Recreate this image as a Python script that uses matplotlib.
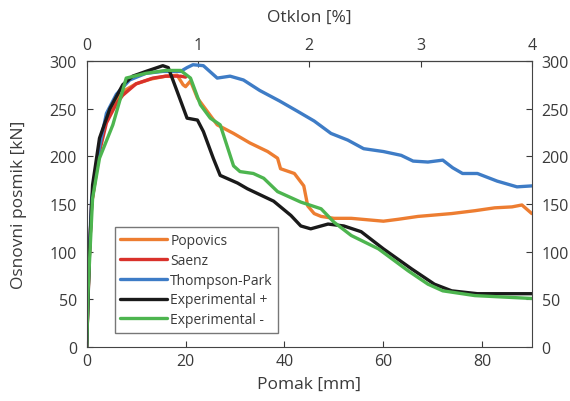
import matplotlib
matplotlib.use("Agg")
import matplotlib.pyplot as plt

plt.rcParams["font.family"] = ["Open Sans", "DejaVu Sans"]

# Popovics
pop_x = [0, 0.5, 1, 2.6, 4, 6, 8, 10, 13, 16, 18.3, 19.5, 20, 21, 22.4, 24.4, 26.4, 29.7, 33,
         36.6, 38.6, 39.2, 42, 43.9, 44.7, 46, 47.4, 50, 53.5, 60, 63, 67, 73.8, 78.5, 82.5, 86, 88, 90]
pop_y = [0, 90, 150, 208, 240, 260, 270, 276, 281, 284, 285, 275, 273, 279, 261, 247, 233, 224, 214,
         205, 198, 187, 182, 169, 148, 140, 137, 135, 135, 132, 134, 137, 140, 143, 146, 147, 149, 140]
# Saenz
sae_x = [0, 0.5, 1, 2.6, 4, 6, 7.3, 10, 13.4, 16, 19, 20]
sae_y = [0, 90, 150, 205, 235, 255, 264, 276, 282, 284, 284, 283]
# Thompson-Park
tp_x = [0, 0.5, 1, 2.6, 4, 6, 8.7, 12, 15.4, 19, 20.3, 21.5, 23.6, 26.4, 29, 31.7, 35, 39, 42.7,
        46, 49.4, 52.8, 56, 60, 63.6, 66, 69, 72, 74, 76, 79, 83, 87, 90]
tp_y = [0, 95, 155, 210, 245, 265, 280, 287, 289, 289, 293, 296, 295, 282, 284, 280, 269, 258, 247,
        237, 224, 217, 208, 205, 201, 195, 194, 196, 188, 182, 182, 174, 168, 169]
# Experimental +
ep_x = [0, 0.6, 1.2, 2.6, 4.7, 7.3, 9.3, 12, 15.4, 16.5, 18.3, 20.3, 22.4, 23.6, 25.6, 27,
        30.5, 32.5, 37.8, 41.3, 43.3, 45.3, 48.8, 52, 55.5, 60, 65.7, 70.3, 73.8, 79, 84, 90]
ep_y = [0, 103, 170, 219, 250, 275, 284, 289, 295, 293, 268, 240, 238, 226, 198, 180,
        172, 166, 153, 138, 127, 124, 129, 127, 121, 103, 82, 66, 59, 56, 56, 56]
# Experimental -
em_x = [0, 0.3, 1.2, 2.6, 5.3, 8, 12, 16, 19, 21, 23, 25, 27, 29.7, 31, 33.7, 35.8, 38.6,
        43.3, 47.4, 50, 53.5, 59, 65, 69, 72, 78.5, 90]
em_y = [0, 60, 156, 198, 233, 282, 287, 290, 290, 282, 254, 240, 233, 190, 184, 182, 177, 163,
        152, 145, 131, 117, 103, 80, 66, 59, 54, 51]

series = [
    ("Popovics", pop_x, pop_y, "#ED7D31"),
    ("Saenz", sae_x, sae_y, "#D9312B"),
    ("Thompson-Park", tp_x, tp_y, "#3E7CC6"),
    ("Experimental +", ep_x, ep_y, "#1A1A1A"),
    ("Experimental -", em_x, em_y, "#4DB54F"),
]

y_ticks = [0, 50, 100, 150, 200, 250, 300]
x_ticks = [0, 20, 40, 60, 80]
top_ticks = [0, 1, 2, 3, 4]
txt = "#3a3a3a"

fig = plt.figure(figsize=(5.7, 4.02), dpi=100)
ax = fig.add_axes([0.152, 0.134, 0.781, 0.712])

for name, xs, ys, col in series:
    ax.plot(xs, ys, color=col, lw=2.4, label=name, solid_capstyle="round")

ax.set_xlim(0, 90)
ax.set_ylim(0, 300)
ax.set_xticks(x_ticks)
ax.set_yticks(y_ticks)
ax.tick_params(direction="in", labelsize=11.5, colors=txt, length=4)
ax.tick_params(axis="x", pad=4)
ax.tick_params(axis="y", right=True, labelright=True, pad=7)
ax.set_xlabel("Pomak [mm]", fontsize=12.5, color=txt, labelpad=5)
ax.set_ylabel("Osnovni posmik [kN]", fontsize=12.5, color=txt, labelpad=16)

top = ax.secondary_xaxis("top", functions=(lambda v: v / 22.5, lambda v: v * 22.5))
top.set_xticks(top_ticks)
top.tick_params(direction="in", labelsize=11.5, colors=txt, length=4, pad=6)
top.set_xlabel("Otklon [%]", fontsize=12.5, color=txt, labelpad=11)

for s in ax.spines.values():
    s.set_color("#444444")

leg = ax.legend(loc="lower left", bbox_to_anchor=(0.063, 0.05), borderaxespad=0, fontsize=10,
                frameon=True, fancybox=False, edgecolor="#555555", handlelength=3.4,
                handletextpad=0.2, borderpad=0.4, labelspacing=0.35)
for t in leg.get_texts():
    t.set_color(txt)

fig.savefig("out.png", dpi=100)
